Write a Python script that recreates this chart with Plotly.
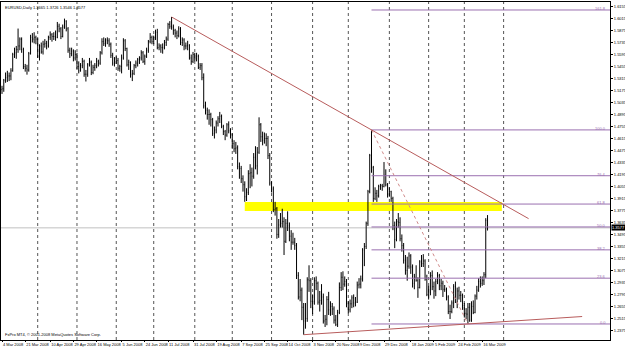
import pandas as pd
import plotly.graph_objects as go

# ---------------- data (EURUSD daily) ----------------
start_date = "2008-03-04"

opens = [1.5190,1.5200,1.5300,1.5330,1.5350,1.5350,1.5410,1.5600,1.5620,1.5660,
         1.5700,1.5780,1.5660,1.5460,1.5440,1.5420,1.5610,1.5800,1.5780,1.5800,
         1.5780,1.5580,1.5700,1.5630,1.5720,1.5730,1.5700,1.5800,1.5830,1.5810,
         1.5810,1.5800,1.5930,1.5900,1.5810,1.5920,1.5990,1.5900,1.5650,1.5610,
         1.5640,1.5560,1.5600,1.5460,1.5410,1.5470,1.5520,1.5370,1.5370,1.5480,
         1.5510,1.5390,1.5450,1.5470,1.5520,1.5500,1.5620,1.5750,1.5730,1.5770,
         1.5760,1.5720,1.5590,1.5500,1.5550,1.5530,1.5440,1.5460,1.5560,1.5760,
         1.5670,1.5480,1.5510,1.5370,1.5380,1.5470,1.5500,1.5540,1.5560,1.5620,
         1.5520,1.5580,1.5650,1.5750,1.5800,1.5750,1.5800,1.5860,1.5680,1.5700,
         1.5680,1.5680,1.5740,1.5780,1.5950,1.5930,1.5920,1.5880,1.5850,1.5820,
         1.5900,1.5740,1.5770,1.5700,1.5700,1.5710,1.5560,1.5520,1.5600,1.5550,
         1.5580,1.5450,1.5470,1.5330,1.5000,1.4950,1.4900,1.4900,1.4840,1.4680,
         1.4720,1.4800,1.4850,1.4880,1.4760,1.4700,1.4660,1.4780,1.4710,1.4670,
         1.4560,1.4500,1.4510,1.4290,1.4270,1.4150,1.4080,1.3940,1.3990,1.4210,
         1.4220,1.4180,1.4400,1.4300,1.4460,1.4780,1.4640,1.4600,1.4620,1.4620,
         1.4420,1.4100,1.4030,1.3790,1.3800,1.3500,1.3610,1.3630,1.3650,1.3420,
         1.3630,1.3600,1.3480,1.3410,1.3410,1.3370,1.3020,1.2770,1.2850,1.2650,
         1.2490,1.2520,1.2970,1.2960,1.2720,1.2720,1.2960,1.2930,1.2710,1.2730,
         1.2770,1.2490,1.2510,1.2740,1.2620,1.2660,1.2630,1.2500,1.2450,1.2590,
         1.2880,1.3000,1.2920,1.2950,1.2690,1.2620,1.2690,1.2760,1.2700,1.2710,
         1.2910,1.2920,1.2980,1.3320,1.3360,1.3630,1.4000,1.4420,1.4280,1.3920,
         1.3980,1.3950,1.4060,1.4070,1.4060,1.4190,1.4080,1.3970,1.4000,1.3920,
         1.3600,1.3440,1.3650,1.3640,1.3450,1.3370,1.3200,1.3080,1.3130,1.3250,
         1.3120,1.2930,1.3000,1.2960,1.2880,1.3180,1.3160,1.3190,1.2980,1.2800,
         1.2820,1.3020,1.2890,1.2840,1.2950,1.3020,1.2900,1.2930,1.2860,1.2860,
         1.2770,1.2600,1.2600,1.2700,1.2890,1.2710,1.2840,1.2790,1.2790,1.2670,
         1.2580,1.2570,1.2650,1.2500,1.2660,1.2590,1.2780,1.2850,1.2950,1.2930,
         1.2960,1.3030,1.3665]

highs = [1.5235,1.5315,1.5390,1.5410,1.5390,1.5440,1.5620,1.5680,1.5700,1.5903,
         1.5800,1.5800,1.5680,1.5490,1.5480,1.5630,1.5830,1.5850,1.5860,1.5820,
         1.5790,1.5720,1.5740,1.5760,1.5780,1.5760,1.5820,1.5870,1.5850,1.5860,
         1.5880,1.5980,1.5960,1.5920,1.5950,1.6019,1.6000,1.5920,1.5680,1.5680,
         1.5660,1.5650,1.5620,1.5520,1.5500,1.5560,1.5540,1.5420,1.5500,1.5560,
         1.5530,1.5480,1.5500,1.5560,1.5540,1.5640,1.5790,1.5800,1.5790,1.5800,
         1.5790,1.5740,1.5620,1.5570,1.5580,1.5560,1.5480,1.5600,1.5790,1.5780,
         1.5680,1.5540,1.5520,1.5420,1.5490,1.5530,1.5560,1.5580,1.5650,1.5640,
         1.5600,1.5680,1.5770,1.5850,1.5820,1.5820,1.5890,1.5900,1.5730,1.5720,
         1.5730,1.5770,1.5810,1.5970,1.5990,1.6038,1.5950,1.5900,1.5880,1.5930,
         1.5920,1.5800,1.5790,1.5740,1.5760,1.5720,1.5600,1.5630,1.5620,1.5620,
         1.5600,1.5500,1.5500,1.5380,1.5050,1.4980,1.4960,1.4920,1.4860,1.4760,
         1.4830,1.4880,1.4930,1.4900,1.4780,1.4720,1.4800,1.4820,1.4740,1.4680,
         1.4600,1.4580,1.4540,1.4340,1.4300,1.4190,1.4120,1.4040,1.4250,1.4320,
         1.4280,1.4450,1.4530,1.4520,1.4867,1.4800,1.4700,1.4690,1.4680,1.4650,
         1.4450,1.4120,1.4060,1.3880,1.3820,1.3680,1.3750,1.3800,1.3700,1.3680,
         1.3770,1.3640,1.3550,1.3520,1.3460,1.3400,1.3060,1.2980,1.2880,1.2700,
         1.2700,1.3000,1.3140,1.2990,1.2800,1.3000,1.3010,1.2950,1.2840,1.2920,
         1.2810,1.2560,1.2780,1.2830,1.2720,1.2700,1.2660,1.2560,1.2620,1.2940,
         1.3060,1.3070,1.3010,1.2980,1.2720,1.2740,1.2790,1.2800,1.2770,1.2950,
         1.2990,1.3020,1.3340,1.3400,1.3650,1.4020,1.4440,1.4720,1.4300,1.4050,
         1.4020,1.4080,1.4090,1.4090,1.4345,1.4260,1.4100,1.4050,1.4010,1.3940,
         1.3650,1.3680,1.3750,1.3700,1.3500,1.3400,1.3260,1.3240,1.3290,1.3270,
         1.3150,1.3040,1.3140,1.3000,1.3200,1.3260,1.3270,1.3210,1.3030,1.2900,
         1.3060,1.3080,1.2950,1.2980,1.3060,1.3040,1.2980,1.2960,1.2910,1.2880,
         1.2790,1.2680,1.2730,1.2920,1.2950,1.2880,1.2890,1.2840,1.2810,1.2700,
         1.2640,1.2700,1.2700,1.2720,1.2730,1.2800,1.2900,1.2990,1.3010,1.3010,
         1.3060,1.3690,1.3726]

lows = [1.5140,1.5165,1.5270,1.5280,1.5290,1.5300,1.5400,1.5560,1.5550,1.5620,
        1.5650,1.5620,1.5430,1.5400,1.5365,1.5400,1.5600,1.5740,1.5730,1.5720,
        1.5560,1.5530,1.5610,1.5600,1.5680,1.5660,1.5680,1.5770,1.5750,1.5770,
        1.5760,1.5790,1.5860,1.5780,1.5800,1.5900,1.5870,1.5620,1.5560,1.5580,
        1.5520,1.5530,1.5430,1.5380,1.5400,1.5440,1.5340,1.5285,1.5340,1.5460,
        1.5360,1.5370,1.5410,1.5440,1.5460,1.5480,1.5600,1.5700,1.5690,1.5720,
        1.5690,1.5560,1.5470,1.5460,1.5490,1.5410,1.5400,1.5380,1.5540,1.5640,
        1.5460,1.5420,1.5330,1.5290,1.5360,1.5440,1.5460,1.5490,1.5530,1.5500,
        1.5480,1.5560,1.5620,1.5730,1.5720,1.5720,1.5770,1.5660,1.5650,1.5620,
        1.5610,1.5660,1.5700,1.5760,1.5900,1.5890,1.5830,1.5800,1.5780,1.5800,
        1.5710,1.5700,1.5650,1.5660,1.5650,1.5540,1.5480,1.5500,1.5520,1.5520,
        1.5430,1.5420,1.5300,1.4970,1.4900,1.4840,1.4780,1.4760,1.4650,1.4620,
        1.4680,1.4760,1.4800,1.4740,1.4660,1.4600,1.4640,1.4680,1.4620,1.4500,
        1.4460,1.4440,1.4260,1.4150,1.4100,1.4000,1.3881,1.3890,1.3960,1.4040,
        1.4060,1.4150,1.4260,1.4200,1.4440,1.4580,1.4540,1.4560,1.4530,1.4380,
        1.4070,1.3990,1.3760,1.3720,1.3450,1.3460,1.3580,1.3580,1.3260,1.3400,
        1.3540,1.3420,1.3320,1.3380,1.3320,1.2980,1.2740,1.2720,1.2500,1.2330,
        1.2400,1.2480,1.2830,1.2640,1.2570,1.2680,1.2850,1.2680,1.2600,1.2680,
        1.2460,1.2420,1.2440,1.2560,1.2550,1.2560,1.2460,1.2430,1.2420,1.2570,
        1.2840,1.2850,1.2890,1.2650,1.2580,1.2590,1.2640,1.2650,1.2660,1.2700,
        1.2870,1.2870,1.2950,1.3130,1.3330,1.3600,1.3980,1.4220,1.3880,1.3900,
        1.3880,1.3930,1.4020,1.4010,1.4050,1.4060,1.3930,1.3940,1.3880,1.3550,
        1.3340,1.3420,1.3580,1.3420,1.3300,1.3160,1.3030,1.2960,1.3100,1.3040,
        1.2880,1.2860,1.2950,1.2760,1.2870,1.3120,1.3120,1.2960,1.2780,1.2740,
        1.2790,1.2850,1.2750,1.2780,1.2920,1.2850,1.2850,1.2770,1.2830,1.2730,
        1.2570,1.2513,1.2580,1.2640,1.2700,1.2640,1.2740,1.2710,1.2620,1.2530,
        1.2510,1.2455,1.2480,1.2480,1.2570,1.2580,1.2740,1.2830,1.2880,1.2900,
        1.2910,1.2990,1.3546]

closes = [1.5200,1.5300,1.5330,1.5350,1.5350,1.5410,1.5600,1.5620,1.5660,1.5700,
          1.5780,1.5660,1.5460,1.5440,1.5420,1.5610,1.5800,1.5780,1.5800,1.5780,
          1.5580,1.5700,1.5630,1.5720,1.5730,1.5700,1.5800,1.5830,1.5810,1.5810,
          1.5800,1.5930,1.5900,1.5810,1.5920,1.5990,1.5900,1.5650,1.5610,1.5640,
          1.5560,1.5600,1.5460,1.5410,1.5470,1.5520,1.5370,1.5370,1.5480,1.5510,
          1.5390,1.5450,1.5470,1.5520,1.5500,1.5620,1.5750,1.5730,1.5770,1.5760,
          1.5720,1.5590,1.5500,1.5550,1.5530,1.5440,1.5460,1.5560,1.5760,1.5670,
          1.5480,1.5510,1.5370,1.5380,1.5470,1.5500,1.5540,1.5560,1.5620,1.5520,
          1.5580,1.5650,1.5750,1.5800,1.5750,1.5800,1.5860,1.5680,1.5700,1.5680,
          1.5680,1.5740,1.5780,1.5950,1.5930,1.5920,1.5880,1.5850,1.5820,1.5900,
          1.5740,1.5770,1.5700,1.5700,1.5710,1.5560,1.5520,1.5600,1.5550,1.5580,
          1.5450,1.5470,1.5330,1.5000,1.4950,1.4900,1.4900,1.4840,1.4680,1.4720,
          1.4800,1.4850,1.4880,1.4760,1.4700,1.4660,1.4780,1.4710,1.4670,1.4560,
          1.4500,1.4510,1.4290,1.4270,1.4150,1.4080,1.3940,1.3990,1.4210,1.4220,
          1.4180,1.4400,1.4300,1.4460,1.4780,1.4640,1.4600,1.4620,1.4620,1.4420,
          1.4100,1.4030,1.3790,1.3800,1.3500,1.3610,1.3630,1.3650,1.3420,1.3630,
          1.3600,1.3480,1.3410,1.3410,1.3370,1.3020,1.2770,1.2850,1.2650,1.2490,
          1.2520,1.2970,1.2960,1.2720,1.2720,1.2960,1.2930,1.2710,1.2730,1.2770,
          1.2490,1.2510,1.2740,1.2620,1.2660,1.2630,1.2500,1.2450,1.2590,1.2880,
          1.3000,1.2920,1.2950,1.2690,1.2620,1.2690,1.2760,1.2700,1.2710,1.2910,
          1.2920,1.2980,1.3320,1.3360,1.3630,1.4000,1.4420,1.4280,1.3920,1.3980,
          1.3950,1.4060,1.4070,1.4060,1.4190,1.4080,1.3970,1.4000,1.3920,1.3600,
          1.3440,1.3650,1.3640,1.3450,1.3370,1.3200,1.3080,1.3130,1.3250,1.3120,
          1.2930,1.3000,1.2960,1.2880,1.3180,1.3160,1.3190,1.2980,1.2800,1.2820,
          1.3020,1.2890,1.2840,1.2950,1.3020,1.2900,1.2930,1.2860,1.2860,1.2770,
          1.2600,1.2600,1.2700,1.2890,1.2710,1.2840,1.2790,1.2790,1.2670,1.2580,
          1.2570,1.2650,1.2500,1.2660,1.2590,1.2780,1.2850,1.2950,1.2930,1.2960,
          1.3030,1.3665,1.3577]

x_tick_labels = ["4 Mar 2008", "21 Mar 2008", "10 Apr 2008", "29 Apr 2008", "16 May 2008",
                 "5 Jun 2008", "24 Jun 2008", "11 Jul 2008", "31 Jul 2008", "19 Aug 2008",
                 "7 Sep 2008", "25 Sep 2008", "14 Oct 2008", "3 Nov 2008", "20 Nov 2008",
                 "9 Dec 2008", "29 Dec 2008", "18 Jan 2009", "5 Feb 2009", "24 Feb 2009",
                 "16 Mar 2009"]

y_tick_values = [1.2375, 1.2515, 1.2655, 1.2795, 1.2935, 1.3075, 1.3215, 1.3355,
                 1.3495, 1.3635, 1.3775, 1.3915, 1.4055, 1.4195, 1.4335, 1.4475, 1.4615,
                 1.4755, 1.4895, 1.5035, 1.5175, 1.5315, 1.5455, 1.5595, 1.5735, 1.5875,
                 1.6015, 1.6155]

title_text = "EURUSD,Daily 1.3665 1.3726 1.3546 1.3577"
footer_text = "FxPro MT4, © 2001-2008 MetaQuotes Software Corp."

# drawn objects (bar index / price)
fib_levels = [0.0, 23.6, 38.2, 50.0, 61.8, 76.4, 100.0, 161.8]
fib_high_bar, fib_low_bar = 207, 261
resist_bars = [95, 207]      # anchored on highs
resist_end_bar = 295
support_bars = [169, 261]    # anchored on lows
support_end_bar = 325
zone_bars = [136, 280]
zone_prices = [1.3775, 1.3880]
grid_until = "2009-04-01"

# ---------------- build ----------------
n = len(closes)
all_days = pd.bdate_range(start_date, grid_until)
bars = list(range(n))

X_MIN, X_MAX = -0.56, 340.6
Y_MIN, Y_MAX = 1.2268, 1.6213

tick_dates = [pd.to_datetime(s, format="%d %b %Y") for s in x_tick_labels]
tick_pos = [int(all_days.searchsorted(d)) for d in tick_dates]

month_starts = [i for i in range(1, len(all_days)) if all_days[i].month != all_days[i - 1].month]

fig = go.Figure()
fig.add_trace(go.Ohlc(
    x=bars, open=opens, high=highs, low=lows, close=closes,
    increasing=dict(line=dict(color="#000000", width=1)),
    decreasing=dict(line=dict(color="#000000", width=1)),
    tickwidth=0.25, showlegend=False, hoverinfo="skip"))

shapes = []
for m in month_starts:
    shapes.append(dict(type="line", xref="x", yref="paper", x0=m, x1=m, y0=0, y1=1,
                       line=dict(color="#555555", width=1, dash="dot"), layer="below"))

# yellow zone
shapes.append(dict(type="rect", xref="x", yref="y", x0=zone_bars[0], x1=zone_bars[1],
                   y0=zone_prices[0], y1=zone_prices[1], fillcolor="#ffff00",
                   line=dict(width=0), layer="below"))

# current price line
shapes.append(dict(type="line", xref="paper", yref="y", x0=0, x1=1, y0=closes[-1], y1=closes[-1],
                   line=dict(color="#c0c0c0", width=1), layer="below"))

# fibonacci
f_hi = highs[fib_high_bar]
f_lo = lows[fib_low_bar]
for lv in fib_levels:
    p = f_lo + (f_hi - f_lo) * lv / 100.0
    shapes.append(dict(type="line", xref="x", yref="y", x0=fib_high_bar, x1=X_MAX, y0=p, y1=p,
                       line=dict(color="#9a70b0", width=1)))
shapes.append(dict(type="line", xref="x", yref="y", x0=fib_high_bar, x1=fib_low_bar, y0=f_hi, y1=f_lo,
                   line=dict(color="#d08a8a", width=1, dash="dot")))

# resistance trendline (extended ray)
r0, r1 = resist_bars
rs = (highs[r1] - highs[r0]) / (r1 - r0)
shapes.append(dict(type="line", xref="x", yref="y", x0=r0, y0=highs[r0],
                   x1=resist_end_bar, y1=highs[r0] + rs * (resist_end_bar - r0),
                   line=dict(color="#b85c5c", width=1)))
# support trendline
s0, s1 = support_bars
ss = (lows[s1] - lows[s0]) / (s1 - s0)
shapes.append(dict(type="line", xref="x", yref="y", x0=s0, y0=lows[s0],
                   x1=support_end_bar, y1=lows[s0] + ss * (support_end_bar - s0),
                   line=dict(color="#b85c5c", width=1)))

annotations = []
for lv in fib_levels:
    p = f_lo + (f_hi - f_lo) * lv / 100.0
    annotations.append(dict(x=1, xref="paper", y=p, yref="y", text=f"{lv:.1f}", showarrow=False,
                            xanchor="right", yanchor="bottom", xshift=-2, yshift=-3,
                            font=dict(size=4, color="#9a70b0", family="Liberation Sans")))
annotations.append(dict(x=1, xref="paper", y=closes[-1], yref="y", text=f"{closes[-1]:.4f}",
                        showarrow=False, xanchor="left", yanchor="middle", xshift=1,
                        bgcolor="#000000", borderpad=0,
                        font=dict(size=4, color="#ffffff", family="Liberation Sans")))
annotations.append(dict(x=0, xref="paper", y=1, yref="paper", text=title_text, showarrow=False,
                        xanchor="left", yanchor="top", xshift=2, yshift=-1,
                        font=dict(size=4, color="#000000", family="Liberation Sans")))
annotations.append(dict(x=0, xref="paper", y=0, yref="paper", text=footer_text, showarrow=False,
                        xanchor="left", yanchor="bottom", xshift=2, yshift=1,
                        font=dict(size=4, color="#000000", family="Liberation Sans")))

fig.update_layout(
    width=625, height=350,
    margin=dict(l=1, r=15, t=2, b=10),
    paper_bgcolor="#ffffff", plot_bgcolor="#ffffff",
    shapes=shapes, annotations=annotations, showlegend=False,
    xaxis=dict(range=[X_MIN, X_MAX], showgrid=False, zeroline=False,
               tickmode="array", tickvals=tick_pos, ticktext=x_tick_labels,
               ticks="outside", ticklen=1, tickcolor="#000000", tickangle=0,
               ticklabelposition="outside right",
               tickfont=dict(size=4, color="#000000", family="Liberation Sans"),
               showline=True, mirror=True, linecolor="#000000", linewidth=1,
               rangeslider=dict(visible=False), automargin=False),
    yaxis=dict(range=[Y_MIN, Y_MAX], side="right", showgrid=False, zeroline=False,
               tickmode="array", tickvals=y_tick_values,
               ticktext=[f"{v:.4f}" for v in y_tick_values],
               ticks="outside", ticklen=2, tickcolor="#000000",
               tickfont=dict(size=4, color="#000000", family="Liberation Sans"),
               showline=True, mirror=True, linecolor="#000000", linewidth=1,
               automargin=False),
)

fig.write_html("out.html")
